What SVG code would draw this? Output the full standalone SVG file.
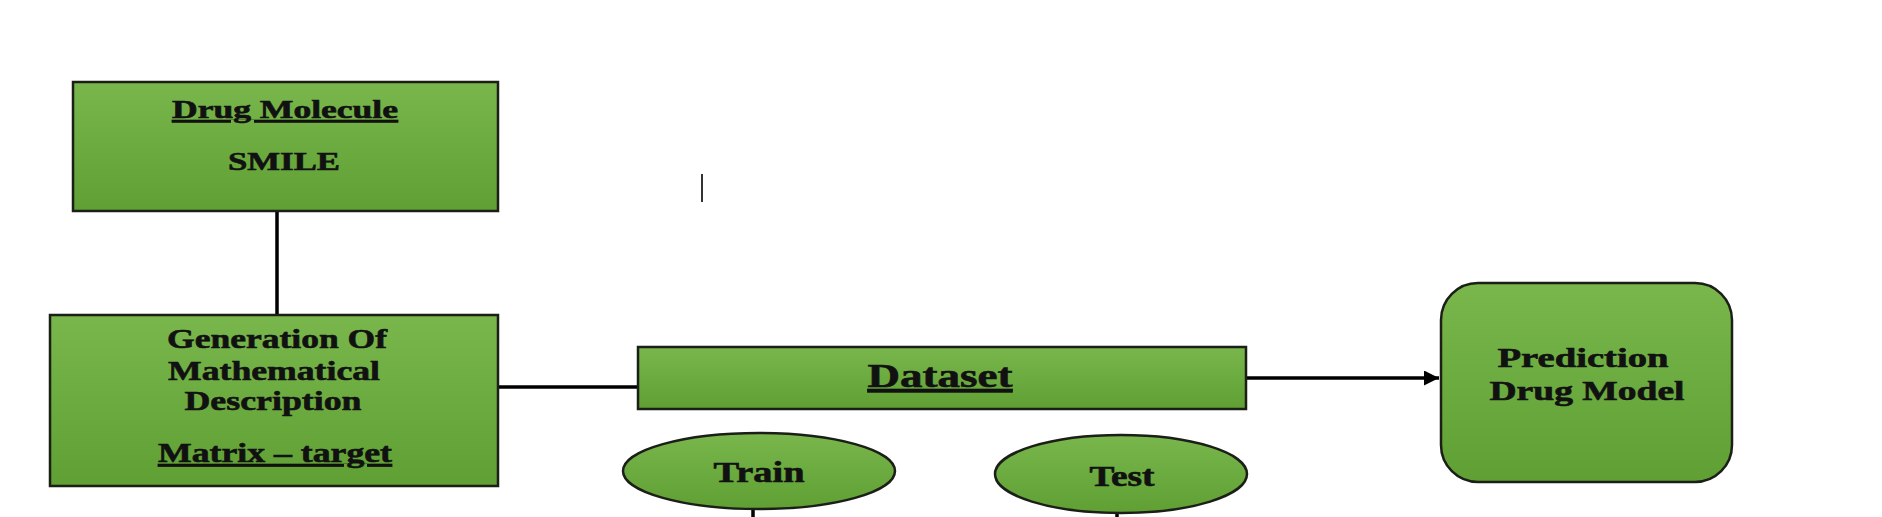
<svg xmlns="http://www.w3.org/2000/svg" width="1882" height="517" viewBox="0 0 1882 517">
<style>
.box{fill:url(#g);stroke:#1b1f17;stroke-width:2.5}
.t{font-family:"Liberation Serif","Times New Roman",serif;font-weight:bold;fill:#111;stroke:#111;stroke-width:0.6;text-anchor:middle}
.u{text-decoration:underline}
.c{stroke:#000;stroke-width:3.5;fill:none}
</style>
<defs>
<linearGradient id="g" x1="0" y1="0" x2="0" y2="1">
<stop offset="0" stop-color="#79b74d"/>
<stop offset="1" stop-color="#5f9f33"/>
</linearGradient>
<marker id="arr" viewBox="0 0 10 10" refX="10" refY="5" markerWidth="20" markerHeight="15" markerUnits="userSpaceOnUse" orient="auto">
<path d="M0,0 L10,5 L0,10 z" fill="#000"/>
</marker>
</defs>
<rect width="1882" height="517" fill="#fff"/>
<g id="connectors">
<line class="c" x1="277" y1="211" x2="277" y2="315"/>
<line class="c" x1="498" y1="387" x2="638" y2="387"/>
<line class="c" x1="1246" y1="378" x2="1439" y2="378" marker-end="url(#arr)"/>
<line class="c" x1="753" y1="510" x2="753" y2="517"/>
<line class="c" x1="1117" y1="513" x2="1117" y2="517"/>
</g>
<g id="drug-molecule">
<rect class="box" x="73" y="82" width="425" height="129"/>
<text class="t u" x="285" y="118" font-size="25" textLength="226" lengthAdjust="spacingAndGlyphs">Drug Molecule</text>
<text class="t" x="284" y="170" font-size="26" textLength="112" lengthAdjust="spacingAndGlyphs">SMILE</text>
</g>
<g id="generation">
<rect class="box" x="50" y="315" width="448" height="171"/>
<text class="t" x="277" y="348" font-size="28" textLength="220" lengthAdjust="spacingAndGlyphs">Generation Of</text>
<text class="t" x="274" y="380" font-size="28" textLength="212" lengthAdjust="spacingAndGlyphs">Mathematical</text>
<text class="t" x="273" y="410" font-size="28" textLength="177" lengthAdjust="spacingAndGlyphs">Description</text>
<text class="t u" x="275" y="462" font-size="27" textLength="234" lengthAdjust="spacingAndGlyphs">Matrix – target</text>
</g>
<g id="dataset">
<rect class="box" x="638" y="347" width="608" height="62"/>
<text class="t u" x="940" y="387" font-size="33" textLength="145" lengthAdjust="spacingAndGlyphs">Dataset</text>
</g>
<g id="prediction">
<rect class="box" x="1441" y="283" width="291" height="199" rx="37" ry="37"/>
<text class="t" x="1583" y="367" font-size="27" textLength="171" lengthAdjust="spacingAndGlyphs">Prediction</text>
<text class="t" x="1587" y="400" font-size="27" textLength="195" lengthAdjust="spacingAndGlyphs">Drug Model</text>
</g>
<g id="train">
<ellipse class="box" cx="759" cy="471" rx="136" ry="38"/>
<text class="t" x="759" y="482" font-size="29" textLength="91" lengthAdjust="spacingAndGlyphs">Train</text>
</g>
<g id="test">
<ellipse class="box" cx="1121" cy="474" rx="126" ry="39"/>
<text class="t" x="1122" y="486" font-size="29" textLength="65" lengthAdjust="spacingAndGlyphs">Test</text>
</g>
<line x1="702" y1="174" x2="702" y2="202" stroke="#333" stroke-width="2"/>
</svg>
